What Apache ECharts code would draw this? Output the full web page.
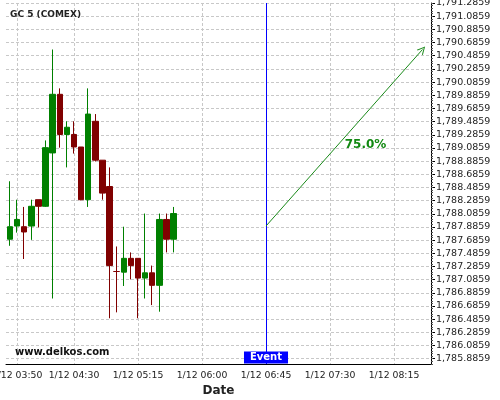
<!DOCTYPE html>
<html><head><meta charset="utf-8">
<script src="https://cdn.jsdelivr.net/npm/echarts@6/dist/echarts.min.js"></script>
<style>html,body{margin:0;padding:0;background:#fff}#c{width:500px;height:400px}</style>
</head><body><div id="c"></div>
<script>
// ---- data ----
const times = ['03:45','03:50','03:55','04:00','04:05','04:10','04:15','04:20','04:25','04:30','04:35','04:40',
               '04:45','04:50','04:55','05:00','05:05','05:10','05:15','05:20','05:25','05:30','05:35','05:40'];
const openV  = [1787.70,1787.90,1787.89,1787.90,1788.30,1788.20,1789.01,1789.90,1789.29,1789.29,1789.10,1788.30,
                1789.49,1788.90,1788.50,1787.21,1787.20,1787.41,1787.41,1787.11,1787.19,1787.00,1788.00,1787.70];
const closeV = [1787.89,1788.00,1787.81,1788.20,1788.20,1789.09,1789.90,1789.29,1789.40,1789.10,1788.30,1789.60,
                1788.90,1788.40,1787.30,1787.21,1787.41,1787.30,1787.11,1787.19,1787.00,1788.00,1787.70,1788.09];
const lowV   = [1787.60,1787.80,1787.40,1787.69,1787.88,1788.19,1786.80,1789.09,1788.79,1789.00,1788.29,1788.19,
                1788.88,1788.30,1786.50,1786.59,1786.99,1787.09,1786.50,1786.80,1786.70,1786.60,1787.50,1787.50];
const highV  = [1788.58,1788.30,1788.19,1788.30,1788.30,1789.20,1790.58,1789.99,1789.49,1789.49,1789.10,1789.99,
                1789.60,1788.90,1788.79,1787.59,1787.89,1787.50,1787.41,1788.09,1787.30,1788.09,1788.09,1788.19];
const xTickLabels = ['03:50','04:30','05:15','06:00','06:45','07:30','08:15'];
const yTickValues = [1785.8859,1786.0859,1786.2859,1786.4859,1786.6859,1786.8859,1787.0859,1787.2859,1787.4859,
                     1787.6859,1787.8859,1788.0859,1788.2859,1788.4859,1788.6859,1788.8859,1789.0859,1789.2859,
                     1789.4859,1789.6859,1789.8859,1790.0859,1790.2859,1790.4859,1790.6859,1790.8859,1791.0859,1791.2859];
const xRange = ['03:42','08:41'];
const yMin = 1785.8059, yMax = 1791.2859;
const eventTime = '06:45';
const arrowFrom = ['06:45', 1787.90];
const arrowTo = ['08:35', 1790.58];
const arrowText = '75.0%';
const arrowTextAt = ['07:55', 1789.13];
const titleText = 'GC 5 (COMEX)';
const watermark = 'www.delkos.com';

// ---- helpers ----
function toMin(s){ const p = s.split(':'); return (+p[0])*60 + (+p[1]); }
function fmtTime(m){ const h = Math.floor(m/60), mm = Math.round(m%60); return '1/12 ' + String(h).padStart(2,'0') + ':' + String(mm).padStart(2,'0'); }
function fmtNum(v){ const s = v.toFixed(4).split('.'); return s[0].replace(/\B(?=(\d{3})+(?!\d))/g, ',') + '.' + s[1]; }

const candles = times.map((t,i) => [toMin(t), openV[i], closeV[i], lowV[i], highV[i]]);
const xTicks = xTickLabels.map(toMin);
const FONT = 'DejaVu Sans';

const chart = echarts.init(document.getElementById('c'), null, {renderer:'canvas'});
chart.setOption({
  animation: false,
  backgroundColor: '#fff',
  title: { text: titleText, left: 10, top: 10, padding: 0,
           textStyle: { fontSize: 9, fontWeight: 'bold', color: '#222', fontFamily: FONT } },
  graphic: [{ type: 'text', left: 15, top: 347, z: 100,
              style: { text: watermark, font: 'bold 10px "DejaVu Sans"', fill: '#111' } }],
  grid: { left: 6, right: 69, top: 3, bottom: 36, containLabel: false, outerBoundsMode: 'none' },
  xAxis: {
    type: 'value', min: toMin(xRange[0]) + 0.2, max: toMin(xRange[1]),
    name: 'Date', nameLocation: 'middle', nameGap: 18,
    nameTextStyle: { fontSize: 12, fontWeight: 'bold', color: '#222', fontFamily: FONT },
    axisLine: { show: true, lineStyle: { color: '#000', width: 1 } },
    axisTick: { show: false, customValues: xTicks },
    axisLabel: { customValues: xTicks, formatter: fmtTime, fontSize: 9.3, color: '#222', fontFamily: FONT, margin: 7 },
    splitLine: { show: true, lineStyle: { color: '#c8c8c8', type: [3,2], width: 1 } }
  },
  yAxis: [{
    type: 'value', position: 'right', min: yMin, max: yMax, scale: true,
    axisLine: { show: true, lineStyle: { color: '#000', width: 1 } },
    axisTick: { show: true, length: 4, customValues: yTickValues, lineStyle: { color: '#000' } },
    axisLabel: { customValues: yTickValues, formatter: fmtNum, fontSize: 9.5, color: '#222', fontFamily: FONT, margin: 5 },
    splitLine: { show: true, lineStyle: { color: '#c8c8c8', type: [3,2], width: 1 } }
  }, {
    type: 'value', position: 'right', min: yMin, max: yMax, interval: 0.04,
    axisLine: { show: false },
    axisTick: { show: true, length: 2, lineStyle: { color: '#555' } },
    axisLabel: { show: false },
    splitLine: { show: false }
  }],
  series: [{
    type: 'candlestick',
    data: candles,
    encode: { x: 0, y: [1,2,3,4] },
    barWidth: 6,
    itemStyle: { color: '#008000', color0: '#800000', borderColor: '#008000', borderColor0: '#800000', borderWidth: 1 },
    markLine: {
      silent: true, symbol: ['none','none'],
      label: { show: false },
      lineStyle: { color: '#0000ff', width: 1, type: 'solid', opacity: 1 },
      data: [{ xAxis: toMin(eventTime) }]
    }
  }, {
    type: 'scatter',
    symbolSize: 1,
    z: 10,
    itemStyle: { color: 'rgba(0,0,0,0)', opacity: 1 },
    data: [
      { value: [toMin(eventTime), yMin], label: { show: true, position: 'top', distance: 0, formatter: 'Event',
        backgroundColor: '#0000ff', color: '#fff', fontWeight: 'bold', fontSize: 10, fontFamily: FONT, padding: [1,6,1,6], opacity: 1 } },
      { value: [toMin(arrowTextAt[0]), arrowTextAt[1]], label: { show: true, position: 'inside', formatter: arrowText,
        color: '#118811', fontWeight: 'bold', fontSize: 12, fontFamily: FONT, opacity: 1 } }
    ],
    markLine: {
      silent: true,
      symbol: ['none', 'path://M0,10 L5,0 L10,10 L8.6,10 L5,2.6 L1.4,10 Z'],
      symbolSize: [8, 8],
      label: { show: false },
      lineStyle: { color: '#1a8a1a', width: 1, type: 'solid', opacity: 1 },
      data: [[ { coord: [toMin(arrowFrom[0]), arrowFrom[1]] }, { coord: [toMin(arrowTo[0]), arrowTo[1]] } ]]
    }
  }]
});
</script></body></html>
